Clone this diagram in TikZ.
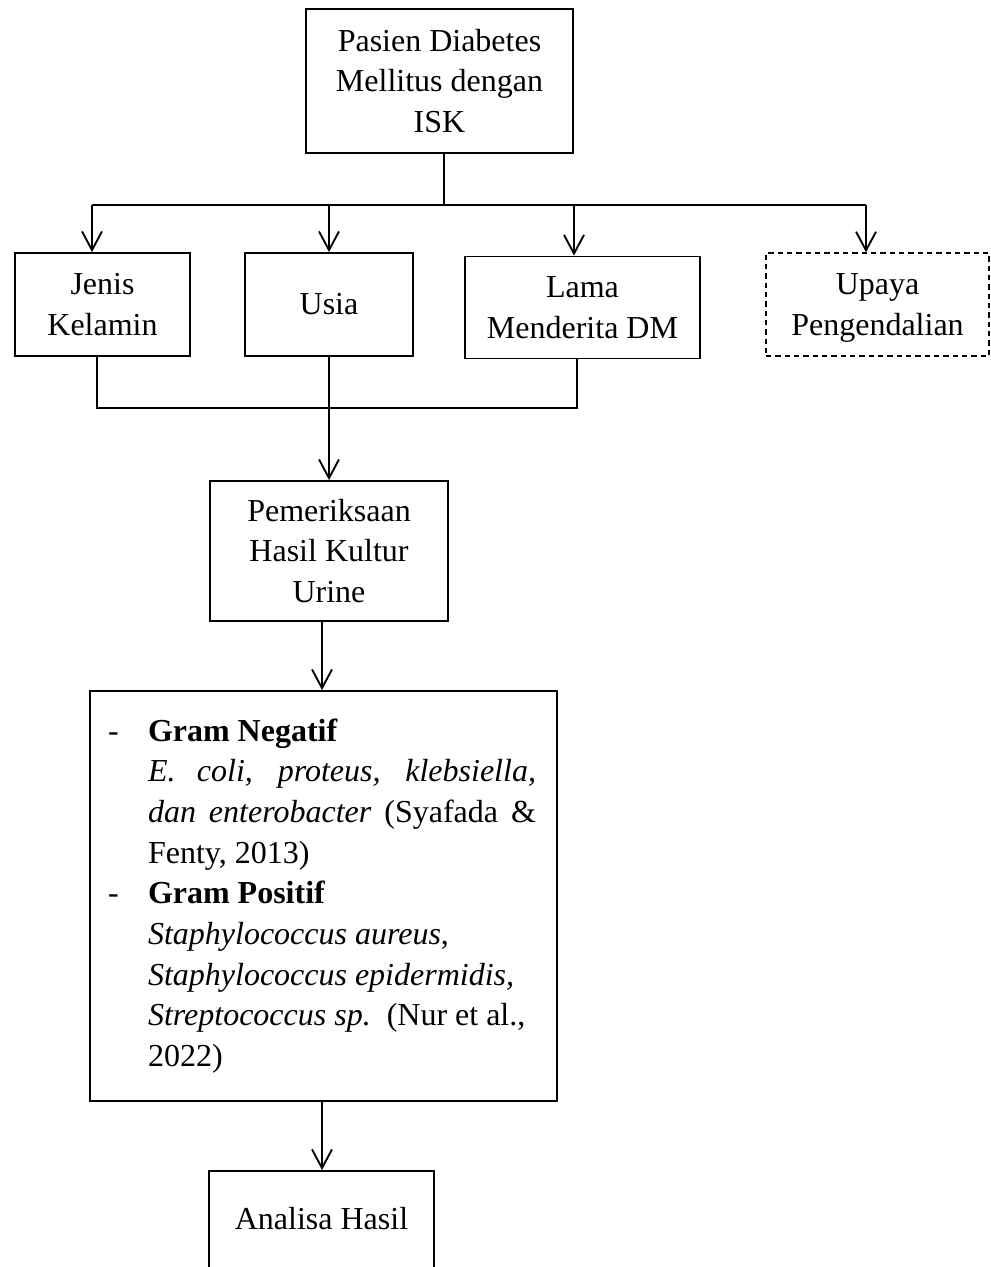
\documentclass[tikz,border=0pt]{standalone}
\usepackage{fontspec}
\setmainfont{Liberation Serif}
\usetikzlibrary{arrows.meta}
\tikzset{every picture/.style={line width=1.4pt}}

\begin{document}
\begin{tikzpicture}[x=0.75pt,y=0.75pt,yscale=-1,
  kotak/.style={draw, align=center, inner sep=0pt, font=\fontsize{24}{30.5}\selectfont},
  panah/.style={-{Straight Barb[length=14pt,width=15pt]}}]
\useasboundingbox (0,0) rectangle (991,1267);

%Shape: Rectangle [pasien]
\node [kotak, minimum width=200pt, minimum height=108pt] (pasien) at (439.5,81) {Pasien Diabetes\\Mellitus dengan\\ISK};
%Shape: Rectangle [jenis]
\node [kotak, minimum width=131.25pt, minimum height=77.25pt] (jenis) at (102.5,304.5) {Jenis\\Kelamin};
%Shape: Rectangle [usia]
\node [kotak, minimum width=126pt, minimum height=77.25pt] (usia) at (329,304.5) {Usia};
%Shape: Rectangle [lama]
\node [kotak, minimum width=176.25pt, minimum height=76.5pt] (lama) at (582.5,307.5) {Lama\\Menderita DM};
%Shape: Rectangle [upaya]
\node [kotak, dash pattern=on 4pt off 3pt, line width=1pt, text depth=0pt, minimum width=167.25pt, minimum height=77.25pt] (upaya) at (877.5,304.5) {Upaya\\Pengendalian};
%Shape: Rectangle [pem]
\node [kotak, minimum width=178.5pt, minimum height=105pt] (pem) at (329,551) {Pemeriksaan\\Hasil Kultur\\Urine};
%Shape: Rectangle [bakteri]
\node [kotak, align=left, inner xsep=13.5pt, text width=323.25pt, minimum width=350.25pt, minimum height=307.5pt] (bakteri) at (323.5,896) {\spaceskip=0pt\xspaceskip=0pt%
\makebox[30pt][l]{-}\textbf{Gram Negatif}\\
\hspace*{30pt}\makebox[291pt][s]{\textit{E. coli, proteus, klebsiella,}}\\
\hspace*{30pt}\makebox[291pt][s]{\textit{dan enterobacter} (Syafada \&}\\
\hspace*{30pt}Fenty, 2013)\\
\makebox[30pt][l]{-}\textbf{Gram Positif}\\
\hspace*{30pt}\textit{Staphylococcus aureus},\\
\hspace*{30pt}\textit{Staphylococcus epidermidis,}\\
\hspace*{30pt}\textit{Streptococcus sp.}\ \ (Nur et al.,\\
\hspace*{30pt}2022)};
%Shape: Rectangle [analisa]
\node [kotak, anchor=north, minimum width=168.75pt, inner ysep=27pt, text depth=80pt] (analisa) at (321.5,1170) {Analisa Hasil};

%Straight Lines [cabang atas]
\coordinate (bar) at (444,205);
\coordinate (cJ) at (92,205);
\coordinate (cL) at (574,205);
\coordinate (cU) at (866,205);
\draw (bar |- pasien.south) -- (bar);
\draw (cJ) -- (cU);
\draw [panah] (cJ) -- (cJ |- jenis.north);
\draw [panah] (usia.north |- bar) -- (usia.north);
\draw [panah] (cL) -- (cL |- lama.north);
\draw [panah] (cU) -- (cU |- upaya.north);

%Straight Lines [gabung]
\coordinate (mJ) at (97,408);
\coordinate (mL) at (577,408);
\draw (mJ |- jenis.south) -- (mJ) -- (mL) -- (mL |- lama.south);
\draw (usia.south) -- (usia.south |- mJ);
\draw [panah] (usia.south |- mJ) -- (pem.north);

%Straight Lines [bawah]
\coordinate (tengah) at (322,0);
\draw [panah] (tengah |- pem.south) -- (tengah |- bakteri.north);
\draw [panah] (tengah |- bakteri.south) -- (tengah |- analisa.north);
\end{tikzpicture}
\end{document}
